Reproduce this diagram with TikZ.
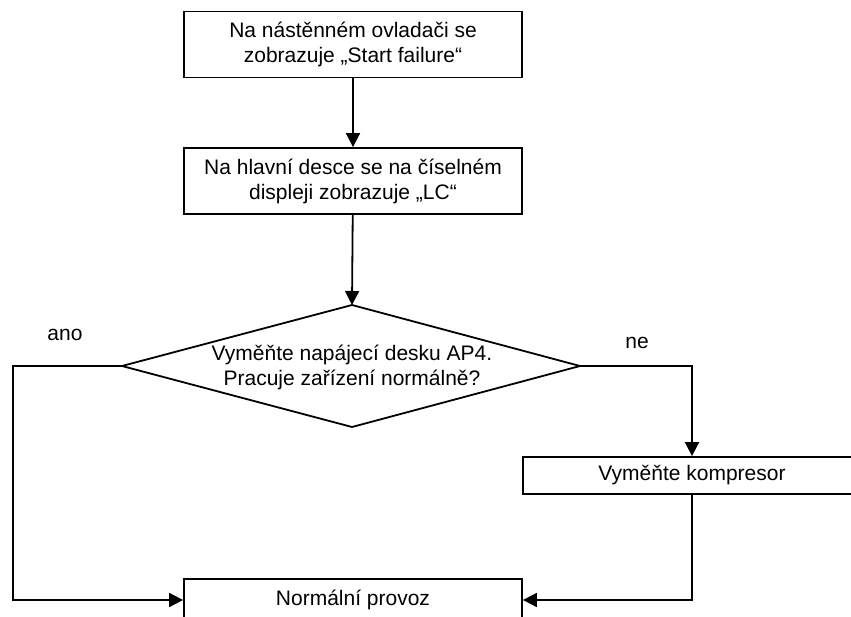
\documentclass[tikz,border=0pt]{standalone}
\usepackage{fontspec}
\setmainfont{Liberation Sans}
\usetikzlibrary{arrows.meta}
\begin{document}
\begin{tikzpicture}[x=1pt,y=-1pt,
  txt/.style={font=\fontsize{21}{25}\selectfont},
  box/.style={draw, line width=1.8pt, minimum width=338pt, minimum height=66pt, align=center, inner sep=0pt, txt},
  conn/.style={line width=1.8pt, -{Triangle[length=14pt,width=14pt]}},
  plain/.style={line width=1.8pt}]
\useasboundingbox (0,0) rectangle (851,617);
\clip (0,0) rectangle (851,617);
\node[box] (b1) at (353,44.5) {Na nástěnném ovladači se\\zobrazuje „Start failure“};
\node[box] (b2) at (353,181) {Na hlavní desce se na číselném\\displeji zobrazuje „LC“};
\coordinate (dT) at (352,305);
\coordinate (dR) at (580,366);
\coordinate (dB) at (352,427);
\coordinate (dL) at (122,366);
\draw[plain, line join=miter] (dT) -- (dR) -- (dB) -- (dL) -- cycle;
\node[txt, align=center] (dq) at (352,367) {Vyměňte napájecí desku AP4.\\Pracuje zařízení normálně?};
\node[box, minimum height=37pt] (b4) at (692,475.5) {Vyměňte kompresor};
\node[box, minimum height=42pt] (b3) at (353,600) {Normální provoz};
\coordinate (lc) at (13,366);
\draw[conn] (b1) -- (b2);
\draw[conn] (b2) -- (dT);
\draw[conn] (dR) -| (b4.north);
\draw[conn] (dL) -- (lc) |- (b3.west);
\draw[conn] (b4.south) |- (b3.east);
\node[txt] (ano) at (65,335) {ano};
\node[txt] (ne) at (637,343) {ne};
\end{tikzpicture}
\end{document}
